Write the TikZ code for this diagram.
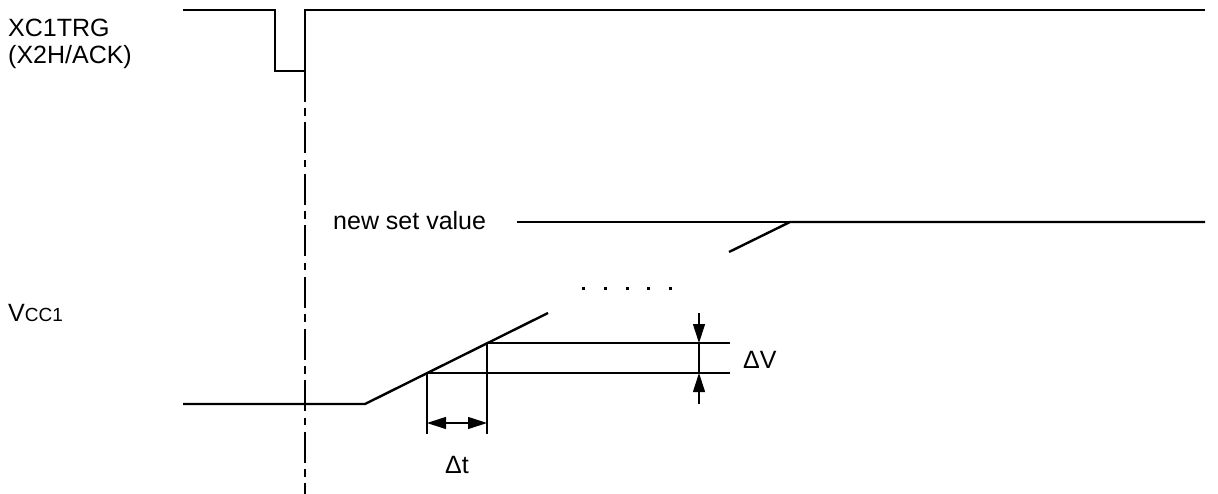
\documentclass[tikz,border=0pt]{standalone}
\usepackage{fontspec}
\setmainfont{Liberation Sans}
\usetikzlibrary{arrows.meta}
\begin{document}
\begin{tikzpicture}[x=1pt,y=-1pt,
  thickline/.style={line width=2.4pt,line join=miter},
  thinline/.style={line width=1.1pt},
  dashdot/.style={line width=1.4pt,dash pattern=on 31pt off 6.5pt on 7.5pt off 6.5pt},
  lbl/.style={inner sep=0pt,anchor=base west,font=\fontsize{25}{30}\selectfont},
  tip/.style={-{Triangle[length=19pt,width=12pt]}},
  dtip/.style={{Triangle[length=19pt,width=12pt]}-{Triangle[length=19pt,width=12pt]}},
  dotmark/.style={fill=black,minimum size=3pt,inner sep=0pt,shape=rectangle}]
\useasboundingbox (0,0) rectangle (1218,494);
% labels
\node[lbl] (sig1) at (8,37) {XC1TRG};
\node[lbl] (sig1b) at (8,64) {(X2H/ACK)};
\node[lbl] (vcc) at (8,322) {V{\fontsize{19}{22}\selectfont CC1}};
\node[lbl] (nsv) at (333,230) {new set value};
\node[lbl] (dv) at (743,368) {ΔV};
\node[lbl] (dt) at (445,473) {Δt};
% top signal
\coordinate (t0) at (183,10);
\coordinate (t1) at (275,10);
\coordinate (t2) at (275,71);
\coordinate (t3) at (305,71);
\coordinate (t4) at (305,10);
\coordinate (t5) at (1205,10);
\draw[thickline] (t0) -- (t1) -- (t2) -- (t3) -- (t4) -- (t5);
% reference dash-dot line
\coordinate (r1) at (305,494);
\draw[dashdot] (t3) -- (r1);
% new set value
\coordinate (n0) at (517,222);
\coordinate (n1) at (790,222);
\coordinate (n2) at (1205,222);
\coordinate (u0) at (729,252);
\draw[thinline] (n0) -- (n1);
\draw[thickline] (u0) -- (n1) -- (n2);
% ramp
\coordinate (v0) at (183,404);
\coordinate (v1) at (365,404);
\coordinate (v2) at (548,313);
\draw[thickline] (v0) -- (v1) -- (v2);
% measurement points
\coordinate (p1) at (427,373);
\coordinate (p2) at (487,343);
\coordinate (h1) at (730,373);
\coordinate (h2) at (730,343);
\coordinate (q1) at (427,434);
\coordinate (q2) at (487,434);
\draw[thinline] (p1) -- (h1);
\draw[thinline] (p2) -- (h2);
\draw[thinline] (p1) -- (q1);
\draw[thinline] (p2) -- (q2);
% delta t arrow
\coordinate (a1) at (427,423);
\coordinate (a2) at (487,423);
\draw[thinline,dtip] (a1) -- (a2);
% delta V arrows
\coordinate (b0) at (699,313);
\coordinate (b1) at (699,343);
\coordinate (b2) at (699,373);
\coordinate (b3) at (699,404);
\draw[thinline,tip] (b0) -- (b1);
\draw[thinline,tip] (b3) -- (b2);
\draw[thinline] (b1) -- (b2);
% dots
\foreach \i/\xx in {1/583,2/605,3/627,4/648,5/670}
  \node[dotmark] (dot\i) at (\xx,289) {};
\end{tikzpicture}
\end{document}
